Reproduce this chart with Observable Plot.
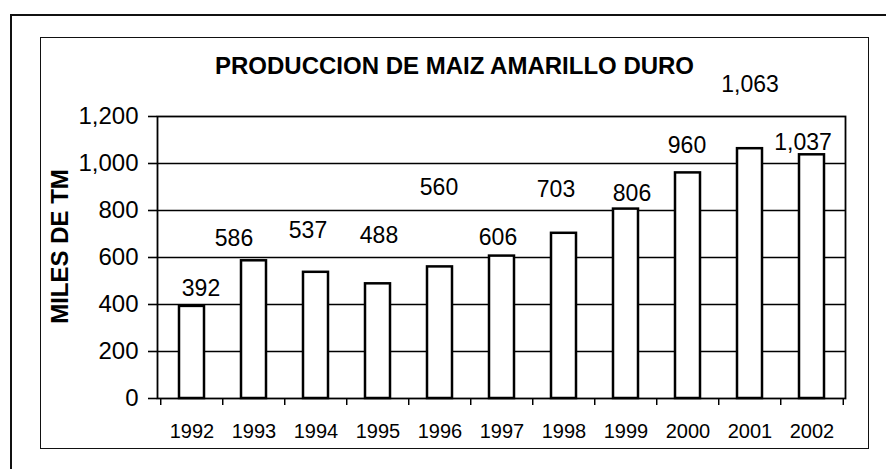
<!DOCTYPE html>
<html>
<head>
<meta charset="utf-8">
<script src="https://cdn.jsdelivr.net/npm/d3@7"></script>
<script src="https://cdn.jsdelivr.net/npm/@observablehq/plot@0.6"></script>
<style>
  html, body { margin: 0; padding: 0; background: #fff; }
  #wrap { position: relative; width: 886px; height: 469px; overflow: hidden; font-family: "Liberation Sans", Arial, sans-serif; }
  #outer { position: absolute; left: 10px; top: 14px; width: 900px; height: 500px; border: 2px solid #111; box-sizing: border-box; }
  #inner { position: absolute; left: 40px; top: 37px; width: 829px; height: 412px; border: 1.5px solid #111; box-sizing: border-box; }
  #title { position: absolute; left: 40px; width: 829px; top: 54px; text-align: center; font-weight: bold; font-size: 24px; line-height: 1; color: #000; }
  #chart { position: absolute; left: 0; top: 0; }
</style>
</head>
<body>
<div id="wrap">
  <div id="outer"></div>
  <div id="inner"></div>
  <div id="title">PRODUCCION DE MAIZ AMARILLO DURO</div>
  <div id="chart"></div>
</div>
<script>
// Data
const years = ["1992","1993","1994","1995","1996","1997","1998","1999","2000","2001","2002"];
const production = [392, 586, 537, 488, 560, 606, 703, 806, 960, 1063, 1037];
const yTicks = [0, 200, 400, 600, 800, 1000, 1200];
const gridTicks = [200, 400, 600, 800, 1000];
// label placement nudges (pixels) as seen in the reference
const labelDx = [9, -20, -8, 1, -1, -4, -8, 6, -1, 0, -9];
const labelDy = [-18, -22, -42, -48, -79, -18, -44, -15, -27, -64, -12];

const rows = years.map((year, i) => ({year, value: production[i]}));

const W = 886, H = 469;
const mL = 157, mR = 41, mT = 116, mB = 71;
const step = (W - mL - mR) / years.length;
const fmt = d3.format(",");

const labelMarks = rows.map((r, i) =>
  Plot.text([r], {x: "year", y: "value", text: d => fmt(d.value), dx: labelDx[i], dy: labelDy[i], fontSize: 23, fill: "black"})
);

const chart = Plot.plot({
  width: W, height: H,
  marginLeft: mL, marginRight: mR, marginTop: mT, marginBottom: mB,
  style: {fontFamily: "'Liberation Sans', Arial, sans-serif", color: "black", background: "transparent", overflow: "visible"},
  x: {domain: years, paddingInner: 0.6, paddingOuter: 0.3},
  y: {domain: [0, 1200]},
  marks: [
    Plot.gridY(gridTicks, {stroke: "black", strokeOpacity: 1, strokeWidth: 1.6}),
    Plot.barY(rows, {x: "year", y: "value", fill: "white", stroke: "black", strokeWidth: 2.5}),
    Plot.frame({stroke: "black", strokeWidth: 1.8}),
    Plot.axisY({ticks: yTicks, tickFormat: fmt, tickSize: 9, tickPadding: 10, fontSize: 24, label: null, stroke: "black", strokeWidth: 1.6}),
    Plot.axisX({ticks: years, tickSize: 7, tickFormat: () => "", dx: -step / 2, label: null, stroke: "black", strokeWidth: 1.5}),
    Plot.axisX({ticks: [years[years.length - 1]], tickSize: 7, tickFormat: () => "", dx: step / 2, label: null, stroke: "black", strokeWidth: 1.5}),
    Plot.axisX({ticks: years, tickSize: 0, tickPadding: 25, fontSize: 20, label: null}),
    Plot.text(["MILES DE TM"], {frameAnchor: "left", textAnchor: "middle", rotate: -90, dx: -97, dy: -11, fontSize: 24, fontWeight: "bold", fill: "black"}),
    ...labelMarks
  ]
});
document.getElementById("chart").appendChild(chart);
</script>
</body>
</html>
